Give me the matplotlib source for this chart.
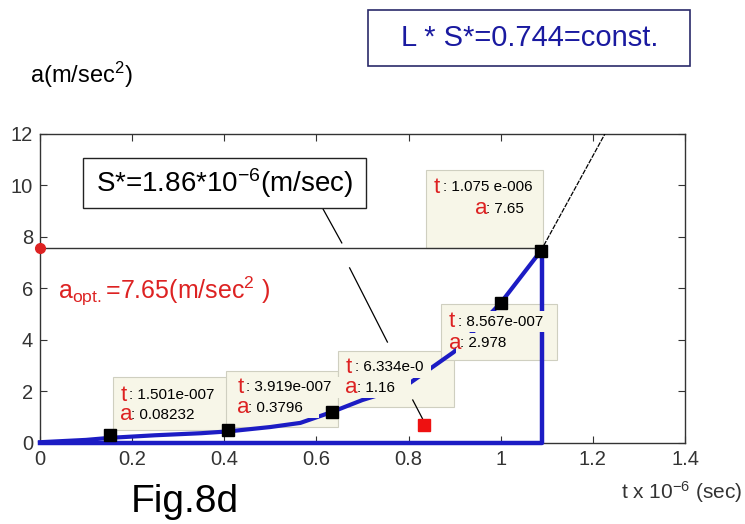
import matplotlib
matplotlib.use('Agg')
import matplotlib.pyplot as plt
from matplotlib.patches import Rectangle

plt.rcParams['mathtext.default'] = 'regular'

# curve a(t), t in 1e-6 sec
t_curve = [0.0, 0.10, 0.152, 0.25, 0.35, 0.409, 0.50, 0.565, 0.633, 0.70, 0.79, 0.898, 1.0, 1.087]
a_curve = [0.03, 0.12, 0.20, 0.30, 0.38, 0.45, 0.62, 0.78, 1.20, 1.67, 2.17, 3.53, 5.44, 7.46]

# marked points
t_marks = [0.152, 0.409, 0.633, 1.0, 1.087]
a_marks = [0.31, 0.50, 1.20, 5.44, 7.46]

# base line and cut-off
t_end = 1.09
a_opt = 7.57

# data tips: label values, box (x0, y0, x1, y1), text anchor
tip_t = ['1.501e-007', '3.919e-007', '6.334e-0', '8.567e-007', '1.075 e-006']
tip_a = ['0.08232', '0.3796', '1.16', '2.978', '7.65']
tip_box = [(0.159, 0.50, 0.413, 2.56),
           (0.404, 0.62, 0.646, 2.80),
           (0.646, 1.40, 0.898, 3.57),
           (0.870, 3.22, 1.122, 5.40),
           (0.837, 7.57, 1.091, 10.6)]
tip_x = [0.174, 0.428, 0.663, 0.887, 0.855]
tip_y1 = [1.86, 2.17, 2.95, 4.70, 9.94]
tip_y2 = [1.09, 1.36, 2.14, 3.88, 9.09]

# slanted line and leader lines
slant_t = [1.087, 1.226]
slant_a = [7.46, 12.0]
lead1_t = [0.613, 0.655]
lead1_a = [9.13, 7.77]
lead2_t = [0.672, 0.754]
lead2_a = [6.80, 3.92]
red_t = 0.833
red_a = 0.70

sans = ['Liberation Sans', 'DejaVu Sans']
blue = '#1c1cc4'
red = '#dd2222'
tipbg = '#f7f6e8'

fig = plt.figure(figsize=(7.45, 5.24), dpi=100)
ax = fig.add_axes([0.0537, 0.1546, 0.8658, 0.5897])
ax.set_xlim(0, 1.4)
ax.set_ylim(0, 12)
ax.set_xticks([0, 0.2, 0.4, 0.6, 0.8, 1.0, 1.2, 1.4])
ax.set_xticklabels(['0', '0.2', '0.4', '0.6', '0.8', '1', '1.2', '1.4'])
ax.set_yticks([0, 2, 4, 6, 8, 10, 12])
ax.tick_params(direction='in', length=5, top=True, right=True, colors='#333333',
               labelsize=14.5, pad=5)
for lab in ax.get_xticklabels() + ax.get_yticklabels():
    lab.set_family(sans)
for s in ax.spines.values():
    s.set_color('#333333')
    s.set_linewidth(1.0)

# data tip boxes (behind the curve)
for (x0, y0, x1, y1) in tip_box:
    ax.add_patch(Rectangle((x0, y0), x1 - x0, y1 - y0, facecolor=tipbg,
                           edgecolor='#cfcfc0', lw=0.8, zorder=2))

# curve, base line and cut-off
ax.plot(t_curve, a_curve, color=blue, lw=3, zorder=3, clip_on=False)
ax.plot([0, t_end, t_end], [0, 0, a_marks[-1]], color=blue, lw=3.2, zorder=3,
        clip_on=False)
ax.plot(t_marks, a_marks, 's', color='black', ms=8, zorder=5)

# optimum line
ax.plot([0, t_marks[-1]], [a_opt, a_opt], color='#333333', lw=1.0, zorder=4)
ax.plot([0], [a_opt], 'o', color=red, ms=7, zorder=6, clip_on=False)
ax.plot(slant_t, slant_a, color='black', lw=0.9, ls=(0, (4, 1)), zorder=4)
ax.plot(lead1_t, lead1_a, color='black', lw=0.9, zorder=4)
ax.plot(lead2_t, lead2_a, color='black', lw=0.9, zorder=4)
ax.plot([0.809, red_t - 0.003], [1.67, red_a + 0.25], color='black', lw=0.9, zorder=4)
ax.plot([red_t], [red_a], 's', color='#ee1111', ms=8, zorder=6)

# data tip texts (their background hides the curve, as in the original)
for i in range(len(tip_t)):
    x = tip_x[i]
    ax.text(x + 0.02, tip_y1[i], ': ' + tip_t[i] + ' ', color='black', fontsize=11,
            family=sans, va='center', ha='left', zorder=7,
            bbox=dict(facecolor=tipbg, edgecolor='none', pad=2.5))
    ax.text(x, tip_y1[i], 't', color=red, fontsize=16, family=sans,
            va='center', ha='left', zorder=8)
    ax2 = x + (0.09 if i == 4 else 0.0)
    ax.text(ax2 + 0.024, tip_y2[i], ': ' + tip_a[i] + '   ', color='black', fontsize=11,
            family=sans, va='center', ha='left', zorder=7,
            bbox=dict(facecolor=tipbg, edgecolor='none', pad=2.5))
    ax.text(ax2, tip_y2[i], 'a', color=red, fontsize=16, family=sans,
            va='center', ha='left', zorder=8)

# S* box
ax.add_patch(Rectangle((0.0935, 9.13), 0.613, 1.94, facecolor='white',
                       edgecolor='#222222', lw=1.0, zorder=6))
ax.text(0.40, 10.08, r'S*=1.86*10$^{-6}$(m/sec)', fontsize=20, family=sans,
        ha='center', va='center', zorder=7)

# a_opt label
ax.text(0.04, 5.9, r'a$_{opt.}$=7.65(m/sec$^{2}$ )', color=red,
        fontsize=18, family=sans, ha='left', va='center', zorder=7)

# figure texts
fig.text(30 / 745, 1 - 75 / 524, r'a(m/sec$^{2}$)', fontsize=17, family=sans,
         ha='left', va='center')
fig.add_artist(Rectangle((368 / 745, 1 - 66 / 524), 322 / 745, 56 / 524,
                         transform=fig.transFigure, facecolor='white',
                         edgecolor='#2a2a6a', lw=1.2))
fig.text(530 / 745, 1 - 38 / 524, 'L * S*=0.744=const.', fontsize=21,
         family=sans, color='#1a1aa0', ha='center', va='center')
fig.text(185 / 745, 1 - 502 / 524, 'Fig.8d', fontsize=28, family=sans,
         ha='center', va='center')
fig.text(742 / 745, 1 - 492 / 524, r't x 10$^{-6}$ (sec)', fontsize=15,
         family=sans, color='#333333', ha='right', va='center')

fig.savefig('out.png', dpi=100)
